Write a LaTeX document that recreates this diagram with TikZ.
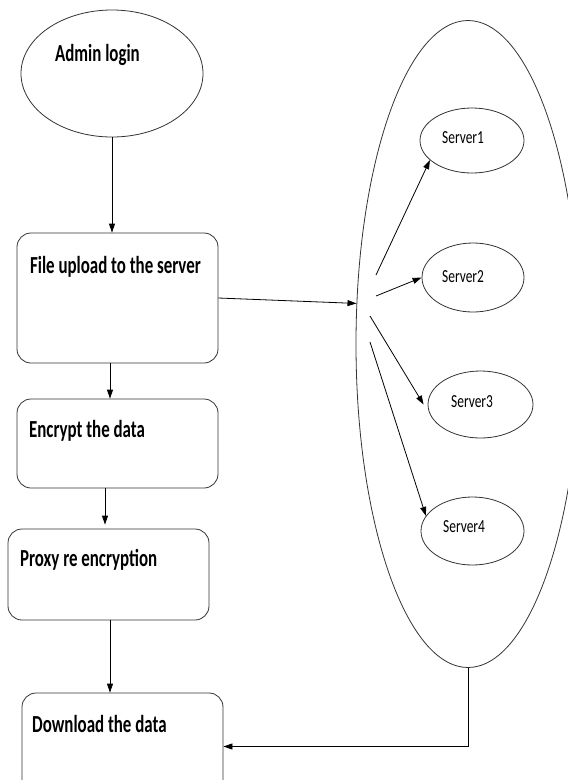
\documentclass[tikz,border=0pt]{standalone}
\usepackage{fontspec}
\setmainfont{Carlito}
\usetikzlibrary{arrows.meta,shapes.geometric}
\begin{document}
\begin{tikzpicture}[x=1pt,y=-1pt,
  outl/.style={draw=black!80,line width=0.8pt},
  oval/.style={outl, ellipse, inner sep=0pt},
  box/.style={outl, rectangle, rounded corners=14pt, inner sep=0pt, minimum width=201pt},
  lbl/.style={font=\fontsize{24.5}{28}\selectfont\bfseries, xscale=0.69, anchor=base west, inner sep=0pt},
  slbl/.style={font=\fontsize{18.4}{22}\selectfont, xscale=0.73, anchor=base west, inner sep=0pt},
  arr/.style={-{Triangle[length=9pt,width=6pt]}, line width=0.8pt, black}]
\useasboundingbox (0,0) rectangle (568,780);
% left column
\node[oval, minimum width=182pt, minimum height=127pt] (admin) at (112,73.5) {};
\node[lbl] (adminT) at (55,61) {Admin login};
\node[box, minimum height=130pt] (up) at (117.5,298) {};
\node[lbl] (upT) at (30,273) {File upload to the server};
\node[box, minimum height=89pt] (en) at (117.5,443.5) {};
\node[lbl] (enT) at (29,437) {Encrypt the data};
\node[box, minimum height=91pt] (px) at (108.5,574.5) {};
\node[lbl] (pxT) at (20,566) {Proxy re encryption};
\node[box, minimum height=107pt] (dl) at (122.5,746.5) {};
\node[lbl] (dlT) at (32,732) {Download the data};
% server cloud
\node[oval, minimum width=224pt, minimum height=647pt] (big) at (468,344) {};
\node[oval, minimum width=104pt, minimum height=65pt] (s1) at (472,140.5) {};
\node[slbl] (s1T) at (442,143) {Server1};
\node[oval, minimum width=102pt, minimum height=69pt] (s2) at (473,277.5) {};
\node[slbl] (s2T) at (442,282) {Server2};
\node[oval, minimum width=105pt, minimum height=67pt] (s3) at (480.5,404.5) {};
\node[slbl] (s3T) at (451,407) {Server3};
\node[oval, minimum width=103pt, minimum height=68pt] (s4) at (472.5,531) {};
\node[slbl] (s4T) at (443,532) {Server4};
% connectors
\draw[arr] (admin) -- (admin |- up.north);
\draw[arr] (up.east) -- (big.160);
\draw[arr] ([xshift=-7.5pt]up.south) -- ([xshift=-7.5pt]en.north);
\draw[arr] ([xshift=-12.5pt]en.south) -- ([xshift=-3.5pt,yshift=4pt]px.north);
\draw[arr] ([xshift=1.5pt]px.south) -- ([xshift=1.5pt]px.south |- dl.north);
\draw[arr] (big.south) |- (dl.east);
\coordinate (a1) at (376,275);
\coordinate (a2) at (376,296);
\coordinate (a3) at (370,316);
\coordinate (a4) at (370,342);
\draw[arr] (a1) -- (s1.205);
\draw[arr] (a2) -- (s2.west);
\draw[arr] (a3) -- ([xshift=-4pt]s3.west);
\draw[arr] (a4) -- (s4.162);
\end{tikzpicture}
\end{document}
